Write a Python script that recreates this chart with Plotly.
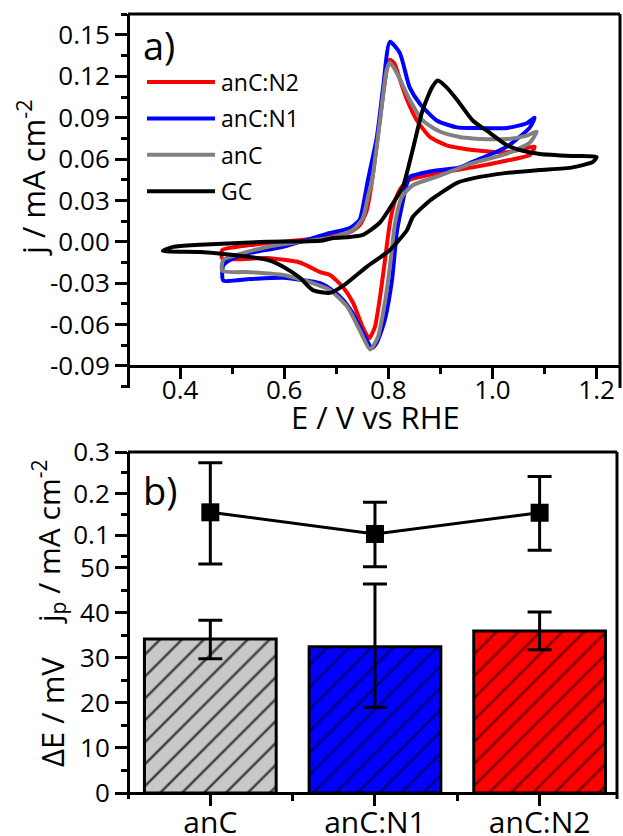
import plotly.graph_objects as go

W, H = 623, 836


def px(x):
    return x / W


def py(y):
    return 1 - y / H


FONT = "Open Sans"

# ---------------- panel a: cyclic voltammograms ----------------
cv_names = ["anC:N2", "anC:N1", "anC", "GC"]
cv_colors = ["#ff0000", "#0000ff", "#808080", "#000000"]

E_anC_N2 = [0.481, 0.534, 0.598, 0.669, 0.726, 0.745, 0.758, 0.767, 0.776, 0.786,
            0.797, 0.803, 0.812, 0.822, 0.836, 0.855, 0.880, 0.912, 0.937, 0.962,
            1.028, 1.066, 1.081, 1.072, 1.028, 0.962, 0.899, 0.841, 0.826, 0.813,
            0.803, 0.793, 0.784, 0.774, 0.763, 0.751, 0.732, 0.713, 0.688, 0.669,
            0.630, 0.567, 0.481, 0.481]
j_anC_N2 = [-0.006, -0.0024, 0.0, 0.003, 0.007, 0.012, 0.022, 0.040, 0.065, 0.095,
            0.125, 0.132, 0.129, 0.118, 0.103, 0.088, 0.076, 0.070, 0.068, 0.0666,
            0.065, 0.068, 0.069, 0.063, 0.059, 0.054, 0.050, 0.045, 0.040, 0.030,
            0.0136, -0.015, -0.040, -0.062, -0.070, -0.062, -0.044, -0.033, -0.024, -0.022,
            -0.015, -0.0118, -0.012, -0.006]

E_anC_N1 = [0.483, 0.502, 0.534, 0.598, 0.688, 0.726, 0.745, 0.751, 0.761, 0.778,
            0.790, 0.803, 0.822, 0.841, 0.861, 0.893, 0.932, 0.962, 1.028, 1.066,
            1.081, 1.072, 1.028, 0.962, 0.937, 0.880, 0.841, 0.836, 0.817, 0.807,
            0.793, 0.778, 0.769, 0.751, 0.732, 0.713, 0.688, 0.669, 0.598, 0.534,
            0.483, 0.483]
j_anC_N1 = [-0.017, -0.012, -0.008, -0.0036, 0.0064, 0.010, 0.016, 0.025, 0.045, 0.076,
            0.112, 0.145, 0.137, 0.112, 0.100, 0.088, 0.083, 0.0826, 0.0826, 0.086,
            0.090, 0.083, 0.069, 0.058, 0.054, 0.051, 0.047, 0.0426, 0.0086, -0.028,
            -0.057, -0.073, -0.077, -0.066, -0.052, -0.042, -0.034, -0.030, -0.026, -0.027,
            -0.028, -0.017]

E_anC = [0.483, 0.509, 0.567, 0.630, 0.688, 0.732, 0.751, 0.761, 0.769, 0.784,
         0.797, 0.803, 0.817, 0.841, 0.866, 0.899, 0.937, 0.962, 1.028, 1.066,
         1.085, 1.072, 1.028, 0.962, 0.899, 0.847, 0.826, 0.813, 0.803, 0.793,
         0.780, 0.765, 0.745, 0.721, 0.688, 0.663, 0.598, 0.534, 0.481, 0.483]
j_anC = [-0.013, -0.0095, -0.0037, 0.0, 0.0028, 0.0086, 0.017, 0.033, 0.045, 0.088,
         0.125, 0.130, 0.122, 0.103, 0.088, 0.080, 0.076, 0.075, 0.0745, 0.077,
         0.080, 0.072, 0.064, 0.057, 0.048, 0.041, 0.0326, 0.0136, -0.018, -0.045,
         -0.069, -0.078, -0.064, -0.047, -0.035, -0.031, -0.024, -0.022, -0.021, -0.013]

E_GC = [0.367, 0.387, 0.438, 0.502, 0.567, 0.669, 0.694, 0.726, 0.751, 0.784,
        0.809, 0.828, 0.847, 0.866, 0.884, 0.895, 0.912, 0.932, 0.962, 0.995,
        1.028, 1.058, 1.091, 1.154, 1.200, 1.193, 1.154, 1.091, 1.028, 0.962,
        0.932, 0.899, 0.880, 0.847, 0.836, 0.803, 0.759, 0.713, 0.688, 0.655,
        0.630, 0.598, 0.567, 0.502, 0.438, 0.367]
j_GC = [-0.0066, -0.0037, -0.0022, -0.001, 0.0, 0.0007, 0.0028, 0.0035, 0.005, 0.014,
        0.028, 0.040, 0.067, 0.0956, 0.112, 0.117, 0.112, 0.103, 0.088, 0.079,
        0.070, 0.066, 0.0637, 0.0622, 0.0615, 0.058, 0.054, 0.052, 0.050, 0.046,
        0.0428, 0.035, 0.030, 0.018, 0.0086, -0.006, -0.018, -0.032, -0.037, -0.035,
        -0.026, -0.018, -0.013, -0.0095, -0.0073, -0.0066]

cv_E = [E_anC_N2, E_anC_N1, E_anC, E_GC]
cv_j = [j_anC_N2, j_anC_N1, j_anC, j_GC]

a_xticks = [0.4, 0.6, 0.8, 1.0, 1.2]
a_xticktext = ["0.4", "0.6", "0.8", "1.0", "1.2"]
a_xminor = [0.5, 0.7, 0.9, 1.1]
a_yticks = [-0.09, -0.06, -0.03, 0.0, 0.03, 0.06, 0.09, 0.12, 0.15]
a_yticktext = ["-0.09", "-0.06", "-0.03", "0.00", "0.03", "0.06", "0.09", "0.12", "0.15"]
a_yminor = [-0.105, -0.075, -0.045, -0.015, 0.015, 0.045, 0.075, 0.105, 0.135, 0.165]

# ---------------- panel b: peak separation and peak current ----------------
categories = ["anC", "anC:N1", "anC:N2"]
dE_mV = [34.2, 32.5, 36.0]
dE_err_plus = [4.2, 13.9, 4.2]
dE_err_minus = [4.4, 13.5, 4.2]
jp = [0.155, 0.103, 0.154]
jp_err_plus = [0.119, 0.076, 0.087]
jp_err_minus = [0.124, 0.079, 0.090]
bar_fill = ["#c8c8c8", "#0000ff", "#ff0000"]
bar_hatch = ["#404040", "#00007a", "#7a0000"]

b_low_ticks = [0, 10, 20, 30, 40, 50]
b_low_minor = [5, 15, 25, 35, 45]
b_up_ticks = [0.1, 0.2, 0.3]
b_up_ticktext = ["0.1", "0.2", "0.3"]
b_up_minor = [0.05, 0.15, 0.25]

xpos = list(range(1, len(categories) + 1))
b_xminor = [p + 0.5 for p in xpos[:-1]]

fig = go.Figure()

for name, color, E, j in zip(cv_names, cv_colors, cv_E, cv_j):
    fig.add_trace(go.Scatter(
        x=E, y=j, mode="lines", name=name,
        line=dict(color=color, width=4, shape="spline", smoothing=0.6),
        xaxis="x", yaxis="y", showlegend=False, hoverinfo="skip"))

for i in range(len(categories)):
    fig.add_trace(go.Bar(
        x=[xpos[i]], y=[dE_mV[i]], width=0.8, name=categories[i],
        marker=dict(color=bar_fill[i], line=dict(color="black", width=3),
                    pattern=dict(shape="/", fgcolor=bar_hatch[i], bgcolor=bar_fill[i],
                                 fgopacity=1, fillmode="replace",
                                 size=15.5, solidity=0.16)),
        error_y=dict(type="data", symmetric=False, array=[dE_err_plus[i]],
                     arrayminus=[dE_err_minus[i]], color="black", thickness=3, width=12),
        xaxis="x2", yaxis="y2", showlegend=False))

fig.add_trace(go.Scatter(
    x=xpos, y=jp, mode="lines+markers",
    line=dict(color="black", width=3),
    marker=dict(symbol="square", size=18, color="black"),
    error_y=dict(type="data", symmetric=False, array=jp_err_plus,
                 arrayminus=jp_err_minus, color="black", thickness=3, width=12),
    xaxis="x2", yaxis="y3", showlegend=False))

tickfont = dict(family=FONT, size=26, color="black")
axis_common = dict(showline=True, linewidth=3, linecolor="black", ticks="outside",
                   tickwidth=3, tickcolor="black", showgrid=False, zeroline=False,
                   automargin=False)
minor_common = dict(ticks="outside", ticklen=6, tickwidth=3, tickcolor="black", showgrid=False)

fig.update_layout(
    width=W, height=H, autosize=False,
    margin=dict(l=0, r=0, t=0, b=0, pad=0, autoexpand=False),
    paper_bgcolor="white", plot_bgcolor="rgba(0,0,0,0)",
    font=dict(family=FONT, color="black"),
    showlegend=False,
    barmode="overlay",
    xaxis=dict(domain=[px(128), px(620)], range=[0.30, 1.245], anchor="free",
               position=py(366), ticklen=11, tickmode="array",
               tickvals=a_xticks, ticktext=a_xticktext, tickfont=tickfont,
               ticklabelstandoff=-11,
               minor=dict(tickvals=a_xminor, **minor_common), **axis_common),
    yaxis=dict(domain=[py(388), py(14)], range=[-0.106, 0.1652], anchor="free",
               position=px(128), ticklen=12, tickmode="array",
               tickvals=a_yticks, ticktext=a_yticktext, tickfont=tickfont,
               minor=dict(tickvals=a_yminor, **minor_common), **axis_common),
    xaxis2=dict(domain=[px(128), px(617)], range=[0.5, 3.47], anchor="free",
                position=py(793), ticklen=11, tickmode="array",
                tickvals=xpos, ticktext=categories,
                tickfont=dict(family=FONT, size=30, color="black"),
                ticklabelstandoff=-9,
                minor=dict(tickvals=b_xminor, **minor_common), **axis_common),
    yaxis2=dict(domain=[py(799), py(540)], range=[-1.33, 56.2], anchor="free",
                position=px(128), ticklen=12, tickmode="array",
                tickvals=b_low_ticks, ticktext=[str(v) for v in b_low_ticks],
                tickfont=tickfont,
                minor=dict(tickvals=b_low_minor, **minor_common), **axis_common),
    yaxis3=dict(domain=[py(580), py(452)], range=[-0.0077, 0.3], anchor="free",
                position=px(128), ticklen=12, tickmode="array",
                tickvals=b_up_ticks, ticktext=b_up_ticktext, tickfont=tickfont,
                minor=dict(tickvals=b_up_minor, **minor_common), **axis_common),
)

shapes = []
# frames (top and right borders)
for top, bottom, right in [(14, 388, 620), (452, 799, 617)]:
    shapes.append(dict(type="line", xref="paper", yref="paper", x0=px(128), x1=px(right),
                       y0=py(top), y1=py(top), line=dict(color="black", width=3)))
    shapes.append(dict(type="line", xref="paper", yref="paper", x0=px(right), x1=px(right),
                       y0=py(top), y1=py(bottom), line=dict(color="black", width=3)))

annotations = []
# custom legend for panel a
for i, (name, color) in enumerate(zip(cv_names, cv_colors)):
    yy = 82 + i * 36.4
    shapes.append(dict(type="line", xref="paper", yref="paper", x0=px(147), x1=px(215),
                       y0=py(yy), y1=py(yy), line=dict(color=color, width=4)))
    annotations.append(dict(text=name, x=px(219), y=py(yy), xref="paper", yref="paper",
                            xanchor="left", yanchor="middle", showarrow=False,
                            font=dict(family=FONT, size=23, color="black")))

annotations += [
    dict(text="a)", x=px(141), y=py(45), xref="paper", yref="paper", xanchor="left",
         yanchor="middle", showarrow=False, font=dict(family=FONT, size=38, color="black")),
    dict(text="b)", x=px(141), y=py(490), xref="paper", yref="paper", xanchor="left",
         yanchor="middle", showarrow=False, font=dict(family=FONT, size=38, color="black")),
    dict(text="E / V vs RHE", x=px(375), y=py(417), xref="paper", yref="paper",
         xanchor="center", yanchor="middle", showarrow=False,
         font=dict(family=FONT, size=31, color="black")),
    dict(text="j / mA cm<sup>-2</sup>", x=px(31), y=py(178), xref="paper", yref="paper",
         xanchor="center", yanchor="middle", textangle=-90, showarrow=False,
         font=dict(family=FONT, size=31, color="black")),
    dict(text="ΔE / mV", x=px(52), y=py(712), xref="paper", yref="paper",
         xanchor="center", yanchor="middle", textangle=-90, showarrow=False,
         font=dict(family=FONT, size=31, color="black")),
    dict(text="j<sub>p</sub> / mA cm<sup>-2</sup>", x=px(48), y=py(542), xref="paper",
         yref="paper", xanchor="center", yanchor="middle", textangle=-90, showarrow=False,
         font=dict(family=FONT, size=30, color="black")),
]

fig.update_layout(shapes=shapes, annotations=annotations)

fig.write_html("out.html", config={"displayModeBar": False})
